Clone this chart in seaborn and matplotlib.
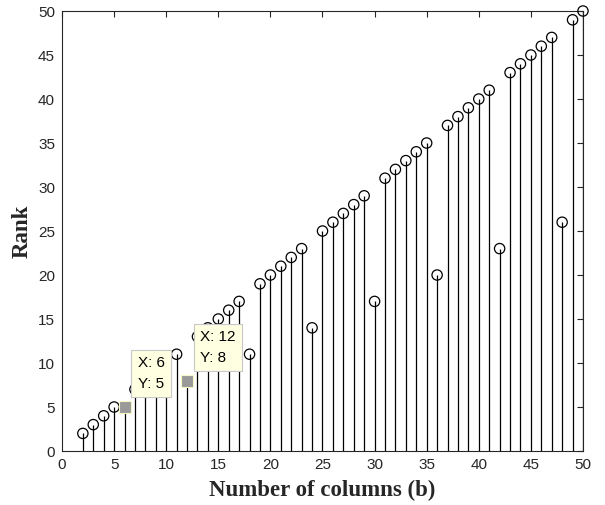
import matplotlib
matplotlib.use("Agg")
import matplotlib.pyplot as plt
import seaborn as sns
import pandas as pd

# Rank obtained for each number of columns b
columns = list(range(2, 51))
rank = [2, 3, 4, 5, 5, 7, 8, 9, 10, 11,
        8, 13, 14, 15, 16, 17, 11, 19, 20, 21,
        22, 23, 14, 25, 26, 27, 28, 29, 17, 31,
        32, 33, 34, 35, 20, 37, 38, 39, 40, 41,
        23, 43, 44, 45, 46, 47, 26, 49, 50]

# Highlighted points shown with data tips
tip_columns = [6, 12]

x_ticks = list(range(0, 51, 5))
y_ticks = list(range(0, 51, 5))

df = pd.DataFrame({"b": columns, "rank": rank})
tip_df = df[df["b"].isin(tip_columns)]
plain_df = df[~df["b"].isin(tip_columns)]

sns.set_style("white")
plt.rcParams["font.family"] = ["Liberation Sans", "DejaVu Sans"]

fig = plt.figure(figsize=(6.05, 5.05), dpi=100)
ax = fig.add_axes([0.1025, 0.1069, 0.8611, 0.8713])

# stems
ax.vlines(df["b"], 0, df["rank"], colors="black", linewidth=0.9, zorder=2)
# open circle heads
sns.scatterplot(data=plain_df, x="b", y="rank", ax=ax, marker="o",
                s=55, facecolor="none", edgecolor="black", linewidth=0.9,
                zorder=3, legend=False, clip_on=False)
# data-tip markers
sns.scatterplot(data=tip_df, x="b", y="rank", ax=ax, marker="s",
                s=75, color="#999999", edgecolor="#f5f5c8", linewidth=0.8,
                zorder=5, legend=False)

for _, row in tip_df.iterrows():
    ax.annotate(f"X: {row['b']}\nY: {row['rank']}",
                xy=(row["b"], row["rank"]), xytext=(13, 16),
                textcoords="offset pixels", ha="left", va="bottom",
                fontsize=11, color="black", linespacing=1.6,
                bbox=dict(boxstyle="square,pad=0.4", facecolor="#ffffe1",
                          edgecolor="#c8c8c8", linewidth=0.8),
                zorder=6)

ax.set_xlim(0, 50)
ax.set_ylim(0, 50)
ax.set_xticks(x_ticks)
ax.set_yticks(y_ticks)
ax.tick_params(direction="in", length=4, width=0.8, top=True, right=True,
               labelsize=11, colors="#262626", pad=5)
for s in ax.spines.values():
    s.set_color("#262626")
    s.set_linewidth(0.8)

ax.set_xlabel("Number of columns (b)", family=["Liberation Serif"],
              fontweight="bold", fontsize=16.5, labelpad=6)
ax.set_ylabel("Rank", family=["Liberation Serif"], fontweight="bold",
              fontsize=16.5, labelpad=4)

fig.savefig("out.png", dpi=100)
